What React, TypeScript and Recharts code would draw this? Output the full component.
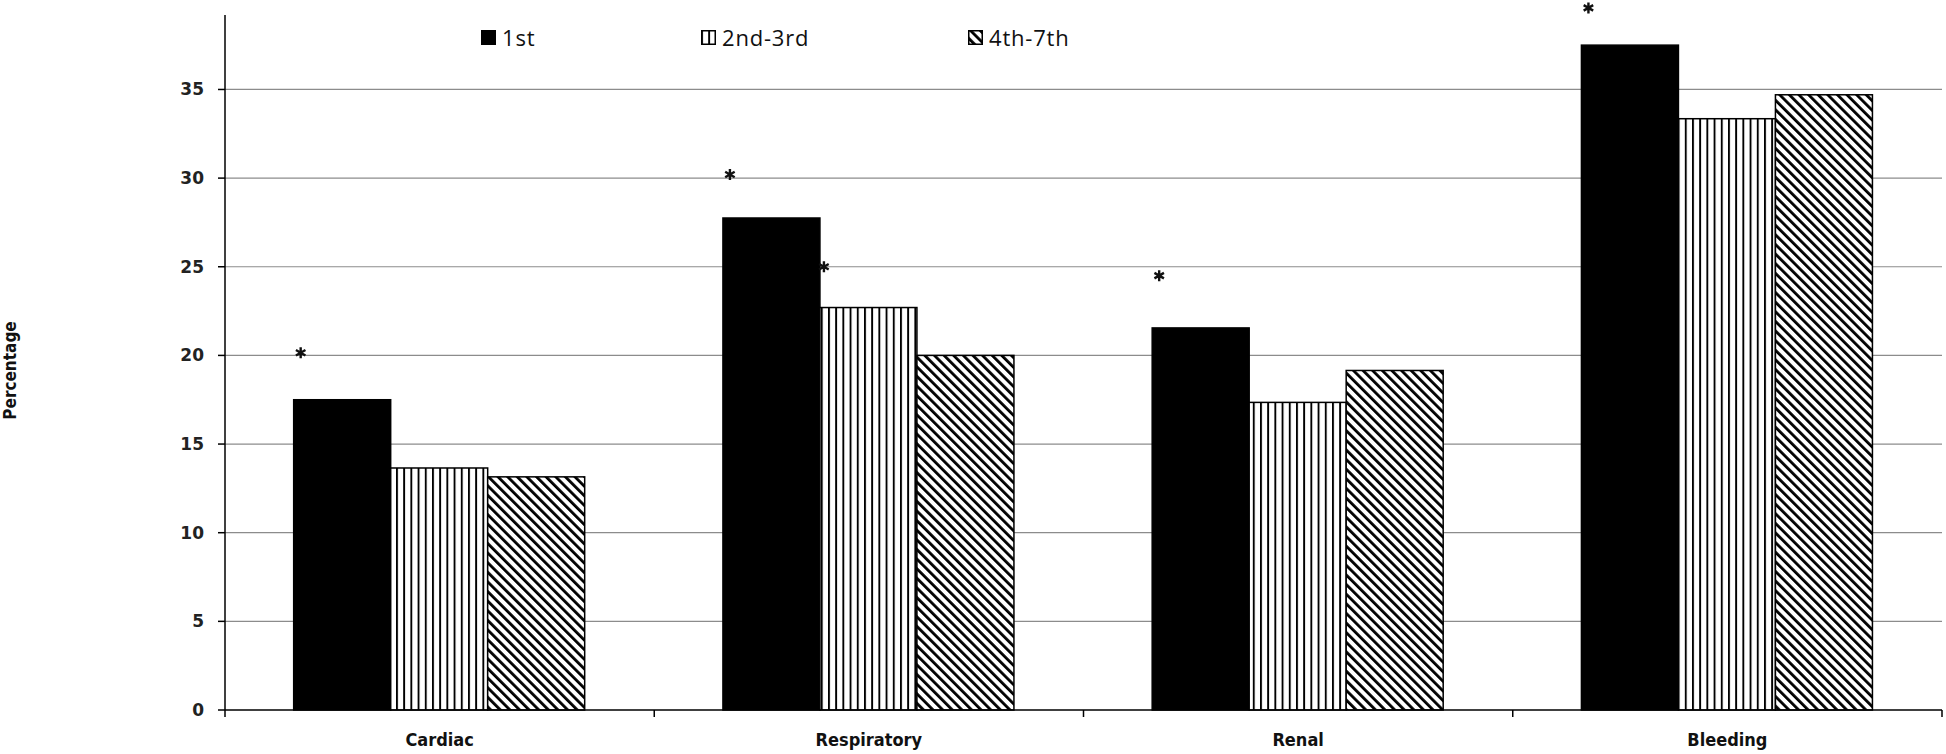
import { Bar, BarChart, CartesianGrid, XAxis, YAxis } from "recharts";

// Complication categories and percentage per group.
const CATEGORIES = ["Cardiac", "Respiratory", "Renal", "Bleeding"];
const FIRST = [17.5, 27.75, 21.55, 37.5];
const SECOND_THIRD = [13.65, 22.7, 17.35, 33.35];
const FOURTH_SEVENTH = [13.15, 20.0, 19.15, 34.7];
// Significance asterisks (value level where the * sits), null = none.
const STAR_FIRST = [20.15, 30.2, 24.5, 39.6];
const STAR_SECOND = [null, 25.0, null, null];
const Y_TICKS = [0, 5, 10, 15, 20, 25, 30, 35];

const SERIES = [
  { key: "first", name: "1st", fill: "#000", star: STAR_FIRST, starDx: 7 },
  { key: "second", name: "2nd-3rd", fill: "url(#vlines)", star: STAR_SECOND, starDx: 4 },
  { key: "third", name: "4th-7th", fill: "url(#dlines)", star: null, starDx: 0 },
];

const data = CATEGORIES.map((name, i) => ({
  name,
  first: FIRST[i],
  second: SECOND_THIRD[i],
  third: FOURTH_SEVENTH[i],
}));

const CONDENSED = "'DejaVu Sans Condensed', 'Liberation Sans Narrow', 'Open Sans', sans-serif";

function Asterisk({ cx, cy }: { cx: number; cy: number }) {
  const r = 5.5;
  const lines = [90, 30, 150].map((deg) => {
    const a = (deg * Math.PI) / 180;
    return `M${cx - r * Math.cos(a)},${cy - r * Math.sin(a)}L${cx + r * Math.cos(a)},${cy + r * Math.sin(a)}`;
  });
  return <path d={lines.join("")} stroke="#111" strokeWidth={2.4} fill="none" />;
}

// Bar rect plus an optional asterisk placed through the bar's own scale.
function makeShape(fill: string, stars: (number | null)[] | null, dx: number, key: string) {
  return (props: any) => {
    const { x, y, width, height, index, payload } = props;
    const v = payload?.[key] ?? props.value;
    const star = stars ? stars[index] : null;
    let starNode = null;
    if (star != null && v) {
      const base = y + height;
      const starY = base - (star * height) / v;
      starNode = <Asterisk cx={x + dx} cy={starY} />;
    }
    return (
      <g>
        <rect x={x} y={y} width={width} height={height} fill={fill} stroke="#000" strokeWidth={1.5} />
        {starNode}
      </g>
    );
  };
}

function CategoryTick(props: any) {
  const { x, y, payload, index } = props;
  const half = payload?.offset ?? 214.6;
  return (
    <g>
      <line x1={x - half} y1={y} x2={x - half} y2={y + 7} stroke="#000" strokeWidth={1.5} />
      {index === CATEGORIES.length - 1 && (
        <line x1={x + half} y1={y} x2={x + half} y2={y + 7} stroke="#000" strokeWidth={1.5} />
      )}
      <text
        x={x}
        y={y + 36}
        textAnchor="middle"
        fontFamily={CONDENSED}
        fontWeight="bold"
        fontSize={18}
        fill="#111"
      >
        {payload.value}
      </text>
    </g>
  );
}

function Swatch({ fill }: { fill: string }) {
  return (
    <svg width={15} height={15} style={{ display: "block" }}>
      <rect x={0.75} y={0.75} width={13.5} height={13.5} fill={fill} stroke="#000" strokeWidth={1.5} />
    </svg>
  );
}

const LEGEND_LEFT = [481, 701, 968];

function LegendBox() {
  return (
    <div style={{ position: "absolute", left: 0, top: 25, width: 1946, height: 24 }}>
      {SERIES.map((s, i) => (
        <div
          key={s.key}
          style={{
            position: "absolute",
            left: LEGEND_LEFT[i],
            top: 0,
            display: "flex",
            alignItems: "center",
            gap: 6,
            fontFamily: "'Open Sans', sans-serif",
            fontSize: 22,
            letterSpacing: 0.8,
            color: "#111",
            lineHeight: "24px",
          }}
        >
          <Swatch fill={s.fill} />
          <span>{s.name}</span>
        </div>
      ))}
    </div>
  );
}

export default function App() {
  return (
    <div style={{ position: "relative", width: 1946, height: 754, background: "#fff" }}>
      <style>{`body{margin:0;background:#fff}`}</style>
      <svg width={0} height={0} style={{ position: "absolute" }}>
        <defs>
          <pattern id="vlines" patternUnits="userSpaceOnUse" width={7.2} height={10}>
            <rect width={7.2} height={10} fill="#fff" />
            <rect x={0} y={0} width={1.9} height={10} fill="#000" />
          </pattern>
          <pattern
            id="dlines"
            patternUnits="userSpaceOnUse"
            width={6.8}
            height={10}
            patternTransform="rotate(-45)"
          >
            <rect width={6.8} height={10} fill="#fff" />
            <rect x={0} y={0} width={2.8} height={10} fill="#000" />
          </pattern>
        </defs>
      </svg>
      <BarChart
        width={1946}
        height={754}
        data={data}
        margin={{ top: 15, right: 4, bottom: 0, left: 0 }}
        barCategoryGap="16%"
        barGap={0}
      >
        <CartesianGrid
          vertical={false}
          horizontalValues={Y_TICKS.filter((t) => t > 0)}
          stroke="#8c8c8c"
          strokeWidth={1.2}
        />
        <XAxis
          dataKey="name"
          height={44}
          tickSize={0}
          tickMargin={0}
          tickLine={false}
          axisLine={{ stroke: "#000", strokeWidth: 1.5 }}
          tick={<CategoryTick />}
          interval={0}
        />
        <YAxis
          width={225}
          domain={[0, 39.2]}
          ticks={Y_TICKS}
          interval={0}
          tickSize={7}
          tickMargin={14}
          axisLine={{ stroke: "#000", strokeWidth: 1.5 }}
          tickLine={{ stroke: "#000", strokeWidth: 1.5 }}
          tick={{
            fontFamily: "'DejaVu Sans', Verdana, sans-serif",
            fontWeight: "bold",
            fontSize: 17,
            fill: "#222",
          }}
          label={(props: any) => {
            const vb = props.viewBox || { y: 15, height: 695 };
            const cy = vb.y + vb.height / 2 + 8;
            return (
              <text
                x={16}
                y={cy}
                transform={`rotate(-90, 16, ${cy})`}
                textAnchor="middle"
                fontFamily={CONDENSED}
                fontWeight="bold"
                fontSize={17}
                fill="#111"
              >
                Percentage
              </text>
            );
          }}
        />
        {SERIES.map((s) => (
          <Bar
            key={s.key}
            dataKey={s.key}
            name={s.name}
            fill={s.fill}
            isAnimationActive={false}
            shape={makeShape(s.fill, s.star, s.starDx, s.key)}
          />
        ))}
      </BarChart>
      <LegendBox />
    </div>
  );
}
